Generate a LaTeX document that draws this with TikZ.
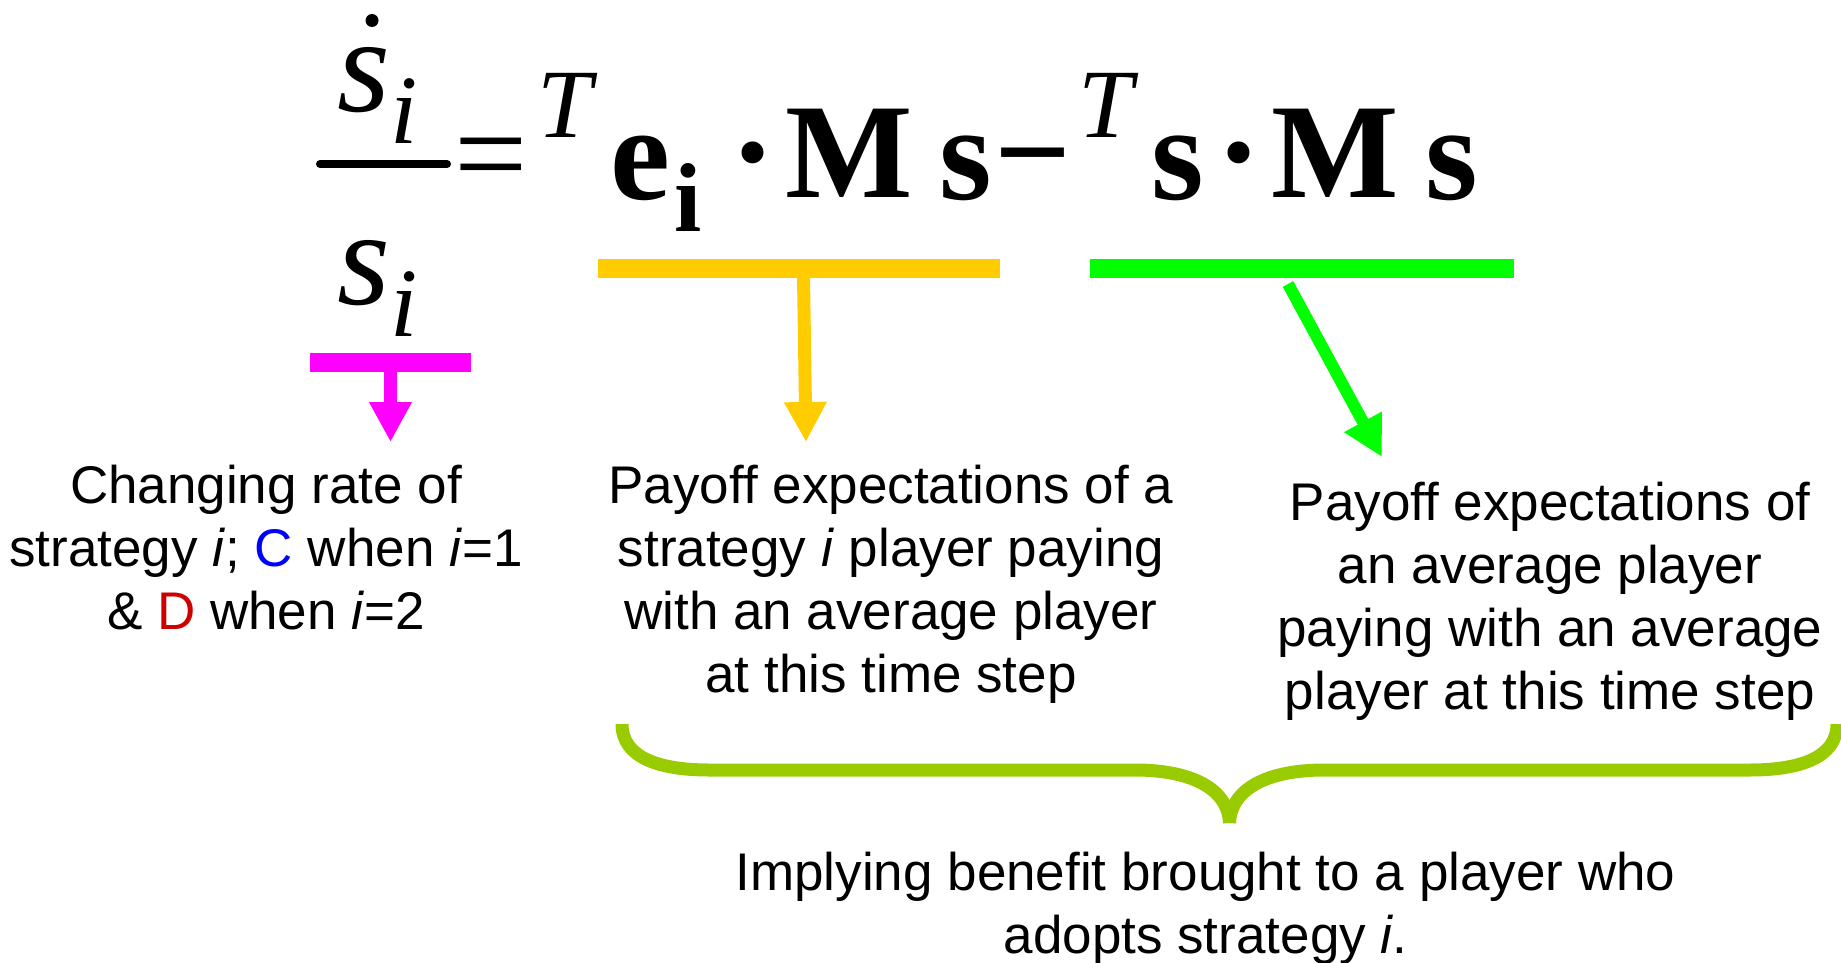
\documentclass[tikz,border=0pt]{standalone}
\usepackage{fontspec}
\setmainfont{Liberation Serif}
\newfontfamily\sansA{Liberation Sans}
\usetikzlibrary{arrows.meta}
\definecolor{magentaA}{HTML}{FF00FF}
\definecolor{yellowA}{HTML}{FFCC00}
\definecolor{greenA}{HTML}{00FF00}
\definecolor{braceA}{HTML}{99CC00}
\definecolor{blueA}{HTML}{0000FF}
\definecolor{redA}{HTML}{CC0000}
\begin{document}
\begin{tikzpicture}[x=0.5pt,y=-0.5pt,
  lbl/.style={font=\sansA\fontsize{26.5pt}{31.5pt}\selectfont, align=center, inner sep=0pt, anchor=north},
  bigbf/.style={font=\bfseries\fontsize{67.5pt}{70pt}\selectfont, inner sep=0pt, anchor=base},
  bigrm/.style={font=\fontsize{65pt}{70pt}\selectfont, inner sep=0pt, anchor=base},
  bigit/.style={font=\itshape\fontsize{68pt}{70pt}\selectfont, inner sep=0pt, anchor=base},
  supit/.style={font=\itshape\fontsize{49pt}{52pt}\selectfont, inner sep=0pt, anchor=base},
  subbf/.style={font=\bfseries\fontsize{49pt}{52pt}\selectfont, inner sep=0pt, anchor=base},
  hbar/.style={line width=9.5pt},
  shaft/.style={line width=6.5pt, -{Triangle[length=20pt,width=20pt]}},
  bracestyle/.style={braceA, line width=6.5pt},
]
\useasboundingbox (0,0) rectangle (1841,963);

% ---- equation ----
\fill (372,20.5) circle (6.5);
\node[bigit] (snum) at (363.5,112) {s};
\node[supit] (inum) at (404,143) {i};
\coordinate (fl) at (320,164);
\coordinate (fr) at (447,164);
\draw[line width=4pt, line cap=round] (fl) -- (fr);
\node[bigit] (sden) at (363.5,304) {s};
\node[supit] (iden) at (404,336) {i};
\node[bigrm] (eq) at (491,198) {=};
\node[supit] (T1) at (564.5,138) {T};
\node[bigbf] (e) at (640,199) {e};
\node[subbf] (ei) at (688.5,231) {i};
\node[bigbf] (d1) at (753,198) {·};
\node[bigbf] (M1) at (849,198) {M};
\node[bigbf] (s1) at (966,199) {s};
\node[bigbf] (minus) at (1032.5,198) {−};
\node[supit] (T2) at (1106,138) {T};
\node[bigbf] (s2) at (1177.5,199) {s};
\node[bigbf] (d2) at (1239,198) {·};
\node[bigbf] (M2) at (1335.5,198) {M};
\node[bigbf] (s3) at (1452,199) {s};

% ---- bars and arrows ----
\coordinate (mL) at (310,362.5);
\coordinate (mR) at (471,362.5);
\coordinate (mS) at (390.5,371);
\coordinate (mT) at (390.5,442);
\draw[magentaA, hbar] (mL) -- (mR);
\draw[magentaA, shaft] (mS) -- (mT);

\coordinate (yL) at (598,268.5);
\coordinate (yR) at (1000,268.5);
\coordinate (yS) at (803.5,277);
\coordinate (yT) at (806,442);
\draw[yellowA, hbar] (yL) -- (yR);
\draw[yellowA, shaft] (yS) -- (yT);

\coordinate (gL) at (1090,268.5);
\coordinate (gR) at (1514,268.5);
\coordinate (gS) at (1288,284);
\coordinate (gT) at (1382,457);
\draw[greenA, hbar] (gL) -- (gR);
\draw[greenA, shaft, line width=6pt] (gS) -- (gT);

% ---- brace ----
\coordinate (bl) at (622,724);
\coordinate (br) at (1837,724);
\coordinate (btip) at (1229.5,823);
\draw[bracestyle] (bl) .. controls (622,758) and (660,770) .. (709,770) -- (1135,770) .. controls (1190,770) and (1228,788) .. (btip);
\draw[bracestyle] (br) .. controls (1837,758) and (1799,770) .. (1750,770) -- (1324,770) .. controls (1269,770) and (1231,788) .. (btip);

% ---- labels ----
\node[lbl] (t1) at (266,463) {\rule{0pt}{20pt}Changing rate of\\strategy \textit{i}; \textcolor{blueA}{C} when \textit{i}=1\\\& \textcolor{redA}{D} when \textit{i}=2};
\node[lbl] (t2) at (891,463) {\rule{0pt}{20pt}Payoff expectations of a\\strategy \textit{i} player paying\\with an average player\\at this time step};
\node[lbl] (t3) at (1550,480) {\rule{0pt}{20pt}Payoff expectations of\\an average player\\paying with an average\\player at this time step};
\node[lbl] (t4) at (1205.5,850) {\rule{0pt}{20pt}Implying benefit brought to a player who\\adopts strategy \textit{i}.};
\end{tikzpicture}
\end{document}
